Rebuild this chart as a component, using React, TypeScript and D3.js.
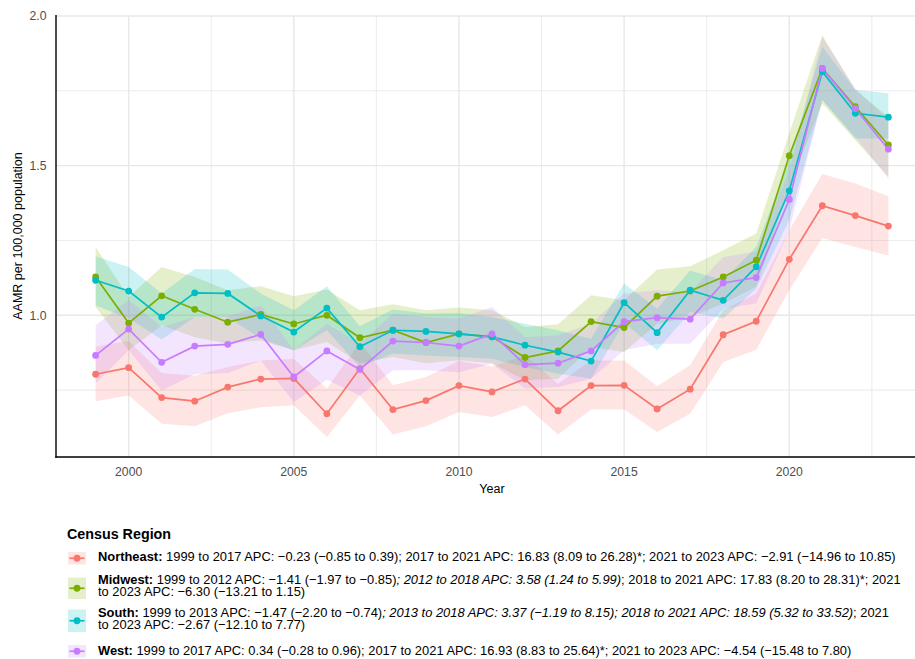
import React from "react";
import * as d3 from "d3";

// Years and AAMR values (per 100,000)
const years = [1999, 2000, 2001, 2002, 2003, 2004, 2005, 2006, 2007, 2008, 2009, 2010, 2011, 2012, 2013, 2014, 2015, 2016, 2017, 2018, 2019, 2020, 2021, 2022, 2023];

const northeast = [0.803, 0.825, 0.725, 0.713, 0.760, 0.787, 0.789, 0.671, 0.822, 0.685, 0.715, 0.765, 0.744, 0.787, 0.681, 0.765, 0.766, 0.687, 0.753, 0.935, 0.980, 1.187, 1.366, 1.333, 1.298];
const northeastLow = [0.713, 0.732, 0.638, 0.629, 0.673, 0.693, 0.699, 0.593, 0.732, 0.602, 0.629, 0.677, 0.660, 0.699, 0.602, 0.685, 0.685, 0.610, 0.671, 0.844, 0.885, 1.084, 1.258, 1.228, 1.200];
const northeastHigh = [0.896, 0.914, 0.807, 0.798, 0.827, 0.849, 0.855, 0.755, 0.910, 0.766, 0.794, 0.847, 0.829, 0.866, 0.771, 0.849, 0.849, 0.763, 0.833, 1.017, 1.073, 1.284, 1.472, 1.440, 1.398];

const midwest = [1.128, 0.974, 1.065, 1.020, 0.977, 1.003, 0.971, 1.000, 0.925, 0.950, 0.909, 0.938, 0.928, 0.859, 0.881, 0.979, 0.959, 1.064, 1.081, 1.128, 1.184, 1.533, 1.825, 1.697, 1.569];
const midwestLow = [1.028, 0.883, 0.967, 0.927, 0.906, 0.916, 0.883, 0.911, 0.840, 0.861, 0.840, 0.850, 0.840, 0.783, 0.788, 0.894, 0.877, 0.972, 0.994, 1.039, 1.095, 1.429, 1.708, 1.585, 1.463];
const midwestHigh = [1.228, 1.061, 1.161, 1.128, 1.084, 1.097, 1.064, 1.086, 1.017, 1.037, 1.017, 1.026, 1.017, 0.961, 0.970, 1.067, 1.050, 1.153, 1.164, 1.217, 1.273, 1.608, 1.936, 1.753, 1.663];

const south = [1.117, 1.081, 0.994, 1.075, 1.073, 0.998, 0.944, 1.024, 0.895, 0.950, 0.946, 0.938, 0.928, 0.900, 0.877, 0.847, 1.042, 0.942, 1.084, 1.050, 1.162, 1.416, 1.814, 1.675, 1.662];
const southLow = [1.033, 0.990, 0.919, 0.994, 0.994, 0.922, 0.883, 0.950, 0.827, 0.872, 0.866, 0.861, 0.855, 0.827, 0.805, 0.788, 0.975, 0.883, 1.011, 0.989, 1.089, 1.318, 1.719, 1.591, 1.591];
const southHigh = [1.197, 1.161, 1.073, 1.155, 1.153, 1.073, 1.017, 1.097, 0.963, 1.019, 1.006, 1.008, 0.994, 0.972, 0.950, 0.922, 1.106, 1.022, 1.150, 1.117, 1.228, 1.518, 1.897, 1.753, 1.742];

const west = [0.866, 0.954, 0.843, 0.897, 0.903, 0.936, 0.794, 0.881, 0.819, 0.914, 0.909, 0.897, 0.938, 0.835, 0.840, 0.881, 0.979, 0.992, 0.987, 1.108, 1.126, 1.387, 1.825, 1.691, 1.555];
const westLow = [0.772, 0.883, 0.749, 0.803, 0.807, 0.849, 0.710, 0.785, 0.732, 0.816, 0.816, 0.810, 0.838, 0.755, 0.760, 0.788, 0.883, 0.905, 0.905, 1.022, 1.039, 1.284, 1.719, 1.596, 1.457];
const westHigh = [0.967, 1.052, 0.961, 0.994, 0.997, 1.033, 0.883, 0.972, 0.905, 1.006, 0.994, 0.989, 1.028, 0.927, 0.933, 0.972, 1.073, 1.084, 1.078, 1.195, 1.212, 1.485, 1.930, 1.758, 1.652];

const regions = ["Northeast", "Midwest", "South", "West"];
const colors = ["#F8766D", "#7CAE00", "#00BFC4", "#C77CFF"];
const yTicks = [1.0, 1.5, 2.0];
const yMinor = [0.75, 1.25, 1.75];
const xTicks = [2000, 2005, 2010, 2015, 2020];
const xMinor = [2002.5, 2007.5, 2012.5, 2017.5, 2022.5];

// legend text: [text, bold?, italic?] pieces per line
type Piece = [string, boolean, boolean];
const legendLines: Piece[][][] = [
  [
    [["Northeast:", true, false], [" 1999 to 2017 APC: \u22120.23 (\u22120.85 to 0.39); 2017 to 2021 APC: 16.83 (8.09 to 26.28)*; 2021 to 2023 APC: \u22122.91 (\u221214.96 to 10.85)", false, false]],
  ],
  [
    [["Midwest:", true, false], [" 1999 to 2012 APC: \u22121.41 (\u22121.97 to \u22120.85)", false, false], ["; 2012 to 2018 APC: 3.58 (1.24 to 5.99)", false, true], ["; 2018 to 2021 APC: 17.83 (8.20 to 28.31)*; 2021", false, false]],
    [["to 2023 APC: \u22126.30 (\u221213.21 to 1.15)", false, false]],
  ],
  [
    [["South:", true, false], [" 1999 to 2013 APC: \u22121.47 (\u22122.20 to \u22120.74)", false, false], ["; 2013 to 2018 APC: 3.37 (\u22121.19 to 8.15); 2018 to 2021 APC: 18.59 (5.32 to 33.52)", false, true], ["; 2021", false, false]],
    [["to 2023 APC: \u22122.67 (\u221212.10 to 7.77)", false, false]],
  ],
  [
    [["West:", true, false], [" 1999 to 2017 APC: 0.34 (\u22120.28 to 0.96); 2017 to 2021 APC: 16.93 (8.83 to 25.64)*; 2021 to 2023 APC: \u22124.54 (\u221215.48 to 7.80)", false, false]],
  ],
];
const legendBaselines = [[560.7], [584.3, 595.8], [617, 628.8], [655]];
const keyBoxes = [[552, 12.5], [577.5, 21.5], [609.5, 22.5], [645, 12.5]];

export default function App() {
  const W = 915, H = 659;
  const left = 56, bottom = 457, top = 15;

  const x = d3.scaleLinear().domain([1997.8, 2024.2]).range([left, 928]);
  const y = d3.scaleLinear().domain([0.5265, 2.0]).range([bottom, 16]);

  const series = [
    { rate: northeast, lo: northeastLow, hi: northeastHigh },
    { rate: midwest, lo: midwestLow, hi: midwestHigh },
    { rate: south, lo: southLow, hi: southHigh },
    { rate: west, lo: westLow, hi: westHigh },
  ];

  const line = d3
    .line<number>()
    .x((_, i) => x(years[i]))
    .y(d => y(d));

  const font = "'Liberation Sans', Arial, sans-serif";

  return (
    <svg width={W} height={H} style={{ position: "absolute", left: 0, top: 0, fontFamily: font }}>
      <rect width={W} height={H} fill="#ffffff" />
      <defs>
        <clipPath id="panel">
          <rect x={left} y={top} width={W - left} height={bottom - top} />
        </clipPath>
      </defs>

      {/* grid */}
      <g>
        {yMinor.map(t => (
          <line key={"ym" + t} x1={left} x2={W} y1={y(t)} y2={y(t)} stroke="#EDEDED" strokeWidth={1.1} />
        ))}
        {xMinor.map(t => (
          <line key={"xm" + t} x1={x(t)} x2={x(t)} y1={top} y2={bottom} stroke="#EDEDED" strokeWidth={1.1} />
        ))}
        {yTicks.map(t => (
          <line key={"y" + t} x1={left} x2={W} y1={y(t)} y2={y(t)} stroke="#E8E8E8" strokeWidth={1.4} />
        ))}
        {xTicks.map(t => (
          <line key={"x" + t} x1={x(t)} x2={x(t)} y1={top} y2={bottom} stroke="#E8E8E8" strokeWidth={1.4} />
        ))}
      </g>

      <g clipPath="url(#panel)">
        {series.map((s, k) => (
          <path
            key={"r" + k}
            d={
              d3
                .area<number>()
                .x((_, i) => x(years[i]))
                .y0((_, i) => y(s.lo[i]))
                .y1((_, i) => y(s.hi[i]))(s.rate) || ""
            }
            fill={colors[k]}
            fillOpacity={0.2}
          />
        ))}
        {series.map((s, k) => (
          <path key={"l" + k} d={line(s.rate) || ""} fill="none" stroke={colors[k]} strokeWidth={1.7} />
        ))}
        {series.map((s, k) =>
          s.rate.map((v, i) => (
            <circle key={"p" + k + "-" + i} cx={x(years[i])} cy={y(v)} r={3.4} fill={colors[k]} />
          ))
        )}
      </g>

      {/* axes */}
      <line x1={left} x2={left} y1={top} y2={bottom + 0.7} stroke="#000" strokeWidth={1.4} />
      <line x1={left - 0.7} x2={W} y1={bottom} y2={bottom} stroke="#000" strokeWidth={1.4} />

      {yTicks.map(t => (
        <text key={"yl" + t} x={46.5} y={y(t)} dy="0.35em" textAnchor="end" fontSize={12.2} fill="#4D4D4D">
          {t.toFixed(1)}
        </text>
      ))}
      {xTicks.map(t => (
        <text key={"xl" + t} x={x(t)} y={471.5} dy="0.35em" textAnchor="middle" fontSize={12.2} fill="#4D4D4D">
          {t}
        </text>
      ))}
      <text x={(left + 928) / 2} y={489} dy="0.35em" textAnchor="middle" fontSize={12.5} fill="#000">
        Year
      </text>
      <text
        transform={`translate(17.5,${(top + bottom) / 2}) rotate(-90)`}
        textAnchor="middle"
        dy="0.35em"
        fontSize={12.5}
        fill="#000"
      >
        AAMR per 100,000 population
      </text>

      {/* legend */}
      <text x={67} y={539} fontSize={14.3} fontWeight="bold" fill="#000">
        Census Region
      </text>
      {regions.map((r, k) => {
        const [ky, kh] = keyBoxes[k];
        const cy = ky + kh / 2;
        return (
          <g key={"lg" + r}>
            <rect x={68} y={ky} width={18} height={kh} fill={colors[k]} fillOpacity={0.2} />
            <line x1={69.5} x2={84.5} y1={cy} y2={cy} stroke={colors[k]} strokeWidth={1.7} />
            <circle cx={77} cy={cy} r={3.4} fill={colors[k]} />
            {legendLines[k].map((pieces, li) => (
              <text key={li} x={98} y={legendBaselines[k][li]} fontSize={12.9} fill="#000">
                {pieces.map((p, pi) => (
                  <tspan key={pi} fontWeight={p[1] ? "bold" : "normal"} fontStyle={p[2] ? "italic" : "normal"}>
                    {p[0]}
                  </tspan>
                ))}
              </text>
            ))}
          </g>
        );
      })}
    </svg>
  );
}
